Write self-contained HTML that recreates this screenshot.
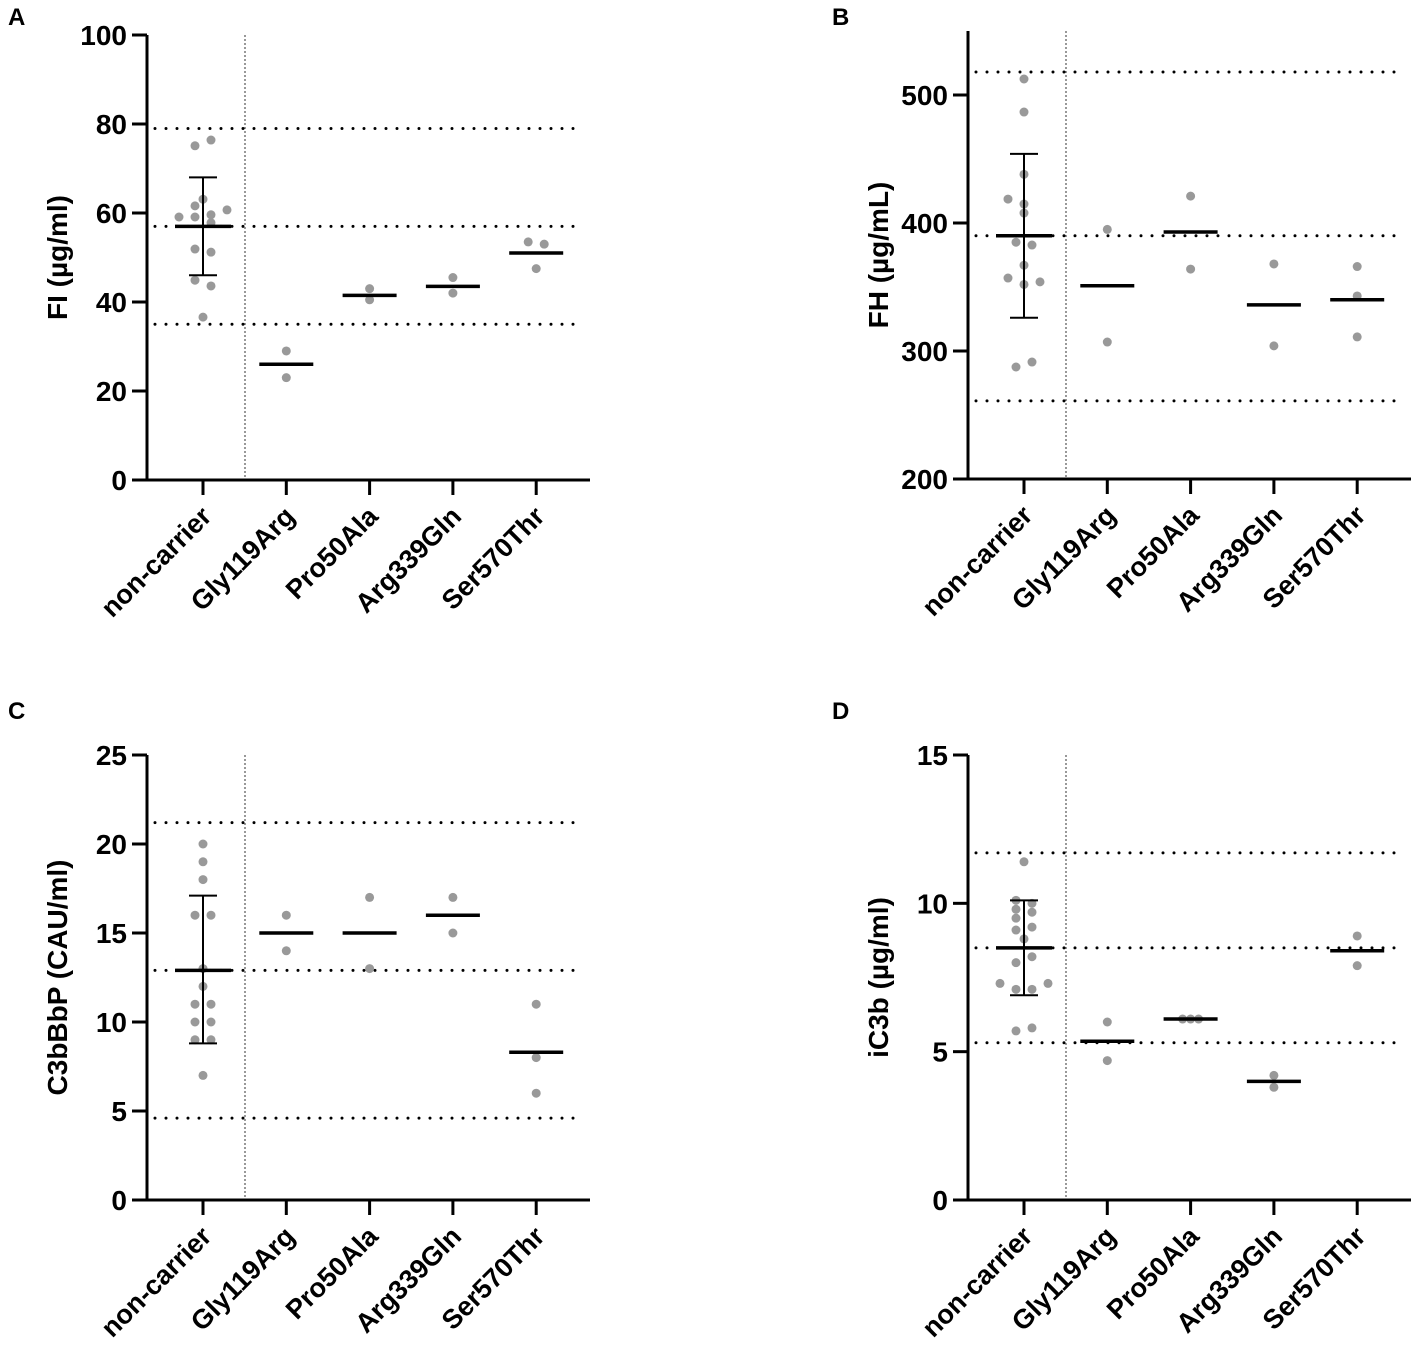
<!DOCTYPE html>
<html><head><meta charset="utf-8"><style>
body{margin:0;background:#fff}
svg text{font-family:"Liberation Sans",Arial,sans-serif;font-weight:bold;fill:#000}
</style></head><body>
<svg id="chart" width="1417" height="1347" viewBox="0 0 1417 1347" xmlns="http://www.w3.org/2000/svg"></svg>
<script>
const categories = ["non-carrier","Gly119Arg","Pro50Ala","Arg339Gln","Ser570Thr"];
// Panel A
const aPoints = [[75.1,76.4,63.1,61.6,59.1,59.1,59.6,60.7,57.8,51.9,51.2,44.9,43.6,36.6],[29,23],[43,40.5],[45.5,42],[53.5,53,47.5]];
const aJit = [[-1,1,0,-1,-3,-1,1,3,1,-1,1,-1,1,0],[0,0],[0,0],[0,0],[-1,1,0]];
const aMeans = [57,26,41.5,43.5,51];
const aErr = [46,68];
const aRef = [79,57,35];
const aTicks = [0,20,40,60,80,100];
// Panel B
const bPoints = [[512.5,486.7,438,418.7,414.8,407.8,385,382.8,367,357,352,354,287.5,291.4],[395,307],[421,364],[368,304],[366,343,311]];
const bJit = [[0,0,0,-2,0,0,-1,1,0,-2,0,2,-1,1],[0,0],[0,0],[0,0],[0,0,0]];
const bMeans = [390,351,393,336,340];
const bErr = [326,454];
const bRef = [518,390,261];
const bTicks = [200,300,400,500];
// Panel C
const cPoints = [[20,19,18,16,16,13,12,11,11,10,10,9,9,7],[16,14],[17,13],[17,15],[11,8,6]];
const cJit = [[0,0,0,-1,1,0,0,-1,1,-1,1,-1,1,0],[0,0],[0,0],[0,0],[0,0,0]];
const cMeans = [12.9,15,15,16,8.3];
const cErr = [8.8,17.1];
const cRef = [21.2,12.9,4.6];
const cTicks = [0,5,10,15,20,25];
// Panel D
const dPoints = [[11.4,10.1,10,9.8,9.7,9.5,9.1,9.2,8.8,8.2,8,7.3,7.3,7.1,7.1,5.7,5.8],[6.0,4.7],[6.1,6.1,6.1],[4.2,3.8],[8.9,7.9]];
const dJit = [[0,-1,1,-1,1,-1,-1,1,0,1,-1,-3,3,-1,1,-1,1],[0,0],[-1,0,1],[0,0],[0,0]];
const dMeans = [8.5,5.35,6.1,4.0,8.4];
const dErr = [6.9,10.1];
const dRef = [11.7,8.5,5.3];
const dTicks = [0,5,10,15];

const NS="http://www.w3.org/2000/svg";
const svg=document.getElementById('chart');
function mk(tag,attrs,parent){const e=document.createElementNS(NS,tag);for(const k in attrs)e.setAttribute(k,attrs[k]);(parent||svg).appendChild(e);return e;}

function panel(o){
  const g=mk('g',{});
  
  
  const x0=o.x0, top=o.top, bot=o.bot;
  const ys=v=>bot-(v-o.min)/(o.max-o.min)*(bot-top);
  const xs=i=>x0+56+i*83.3;
  const right=x0+443;
  o.ref.forEach(r=>{const l=mk('line',{x1:x0+8,x2:right-8,y1:ys(r),y2:ys(r),stroke:'#000','stroke-width':3,'stroke-dasharray':'0 11','stroke-linecap':'round'},g);
    });
  const sp=mk('line',{x1:x0+98,x2:x0+98,y1:top,y2:bot,stroke:'#555','stroke-width':1.2,'stroke-dasharray':'2 2'},g);
  
  const ya=mk('line',{x1:x0,x2:x0,y1:top,y2:bot+1,stroke:'#000','stroke-width':3},g);
  
  const xa=mk('line',{x1:x0-15,x2:right,y1:bot,y2:bot,stroke:'#000','stroke-width':3},g);
  
  o.ticks.forEach(t=>{mk('line',{x1:x0-15,x2:x0,y1:ys(t),y2:ys(t),stroke:'#000','stroke-width':3},g);
    const tx=mk('text',{x:x0-20,y:ys(t)+10,'text-anchor':'end','font-size':28},g);tx.textContent=t;
    });
  categories.forEach((c,i)=>{mk('line',{x1:xs(i),x2:xs(i),y1:bot,y2:bot+15,stroke:'#000','stroke-width':3},g);
    const tx=mk('text',{x:0,y:0,'text-anchor':'end','font-size':27,transform:`translate(${xs(i)+10},${bot+38}) rotate(-45)`},g);tx.textContent=c;
    });
  const yt=mk('text',{x:0,y:0,'text-anchor':'middle','font-size':28,transform:`translate(${x0-80},${(top+bot)/2}) rotate(-90)`},g);yt.textContent=o.title;
  
  const lt=mk('text',{x:o.lx,y:o.ly,'font-size':24},g);lt.textContent=o.letter;
  
  o.pts.forEach((arr,i)=>arr.forEach((v,j)=>{const c=mk('circle',{cx:xs(i)+o.jit[i][j]*8,cy:ys(v),r:4.5,fill:'#999'},g);
    }));
  const e=mk('g',{},g);
  mk('line',{x1:xs(0),x2:xs(0),y1:ys(o.err[0]),y2:ys(o.err[1]),stroke:'#000','stroke-width':2},e);
  o.err.forEach(v=>mk('line',{x1:xs(0)-14,x2:xs(0)+14,y1:ys(v),y2:ys(v),stroke:'#000','stroke-width':2},e));
  o.means.forEach((m,i)=>{const w=i==0?28:27;const l=mk('line',{x1:xs(i)-w,x2:xs(i)+w,y1:ys(m),y2:ys(m),stroke:'#000','stroke-width':3.5},g);
    });
}
panel({name:'panel-a-fi',letter:'A',lx:8,ly:25,x0:147,top:35,bot:480,min:0,max:100,ticks:aTicks,pts:aPoints,jit:aJit,means:aMeans,err:aErr,ref:aRef,title:'FI (µg/ml)'});
panel({name:'panel-b-fh',letter:'B',lx:832,ly:25,x0:968,top:31,bot:479,min:200,max:550,ticks:bTicks,pts:bPoints,jit:bJit,means:bMeans,err:bErr,ref:bRef,title:'FH  (µg/mL)'});
panel({name:'panel-c-c3bbbp',letter:'C',lx:8,ly:719,x0:147,top:755,bot:1200,min:0,max:25,ticks:cTicks,pts:cPoints,jit:cJit,means:cMeans,err:cErr,ref:cRef,title:'C3bBbP (CAU/ml)'});
panel({name:'panel-d-ic3b',letter:'D',lx:832,ly:719,x0:968,top:755,bot:1200,min:0,max:15,ticks:dTicks,pts:dPoints,jit:dJit,means:dMeans,err:dErr,ref:dRef,title:'iC3b (µg/ml)'});
</script>
</body></html>
